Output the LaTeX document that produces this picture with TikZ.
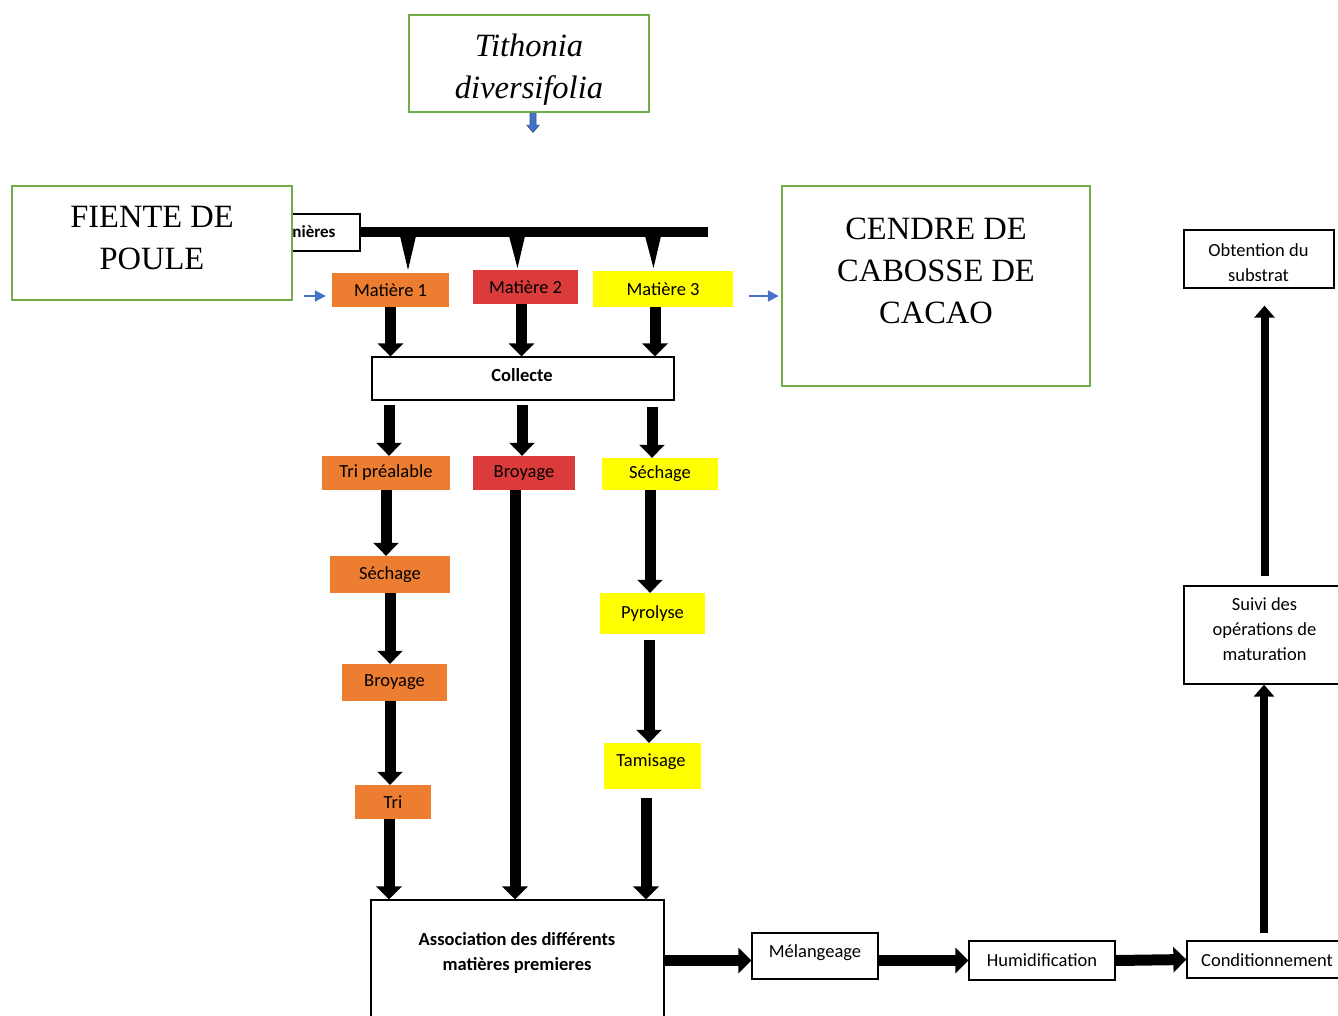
\documentclass[tikz,border=0pt]{standalone}
\usepackage{fontspec}
\setmainfont{Liberation Serif}
\newfontfamily\calfont{Carlito}
\usetikzlibrary{arrows.meta}
\definecolor{gborder}{HTML}{70AD47}
\definecolor{morange}{HTML}{ED7D31}
\definecolor{mred}{HTML}{DC3B3B}
\definecolor{myellow}{HTML}{FFFF00}
\definecolor{mblue}{HTML}{4472C4}
\definecolor{dblue}{HTML}{2F5597}
\begin{document}
\begin{tikzpicture}[x=1pt,y=-1pt,
  gbox/.style={draw=gborder, line width=2.5pt, fill=white, inner sep=0pt},
  gtext/.style={inner sep=0pt, align=center, font=\fontsize{32.5}{42}\selectfont},
  wbox/.style={draw=black, line width=1.3pt, fill=white, inner sep=0pt, align=center, font=\calfont\fontsize{18.5}{25}\selectfont},
  cbox/.style={inner sep=0pt, align=center, font=\calfont\fontsize{18.5}{25}\selectfont},
  obox/.style={cbox, fill=morange},
  rbox/.style={cbox, fill=mred},
  ybox/.style={cbox, fill=myellow},
  barrow/.style={line width=11pt, -{Triangle[width=25pt,length=13pt]}},
  uarrow/.style={line width=8pt, -{Triangle[width=20pt,length=12pt]}},
  blarrow/.style={draw=mblue, line width=2pt, -{Triangle[width=11pt,length=11pt]}},
]
\useasboundingbox (0,0) rectangle (1338,1015);
\fill[white] (0,0) rectangle (1338,1015);

% top box
\node[gbox, minimum width=240pt, minimum height=97pt] (tith) at (529,63.5) {};
\node[gtext] (tithtxt) at (529,70) {\textit{Tithonia}\\\textit{diversifolia}};
\draw[draw=dblue, fill=mblue, line width=0.8pt] ([xshift=1pt]tith.south) -- ++(6,0) -- ++(0,12) -- ++(3,0) -- ++(-6,7) -- ++(-6,-7) -- ++(3,0) -- cycle;

% bar with funnels
\node[wbox, minimum width=110pt, minimum height=37pt] (nier) at (305,232.5) {};
\node[cbox, font=\calfont\bfseries\fontsize{17}{20}\selectfont] (niertxt) at (314,232) {nières};
\fill (360,227) rectangle (708,237);
\fill (400,236) -- (416,236) -- (408,270) -- cycle;
\fill (509,236) -- (525,236) -- (517.5,268) -- cycle;
\fill (645,236) -- (661,236) -- (653.5,268) -- cycle;

% side boxes
\node[gbox, minimum width=280pt, minimum height=114pt] (fiente) at (152,243) {};
\node[gtext] (fientetxt) at (152,238) {FIENTE DE\\POULE};
\node[gbox, minimum width=308pt, minimum height=200pt] (cendre) at (936,286) {};
\node[gtext] (cendretxt) at (936,271) {CENDRE DE\\CABOSSE DE\\CACAO};

% matieres
\node[obox, minimum width=117pt, minimum height=34pt] (m1) at (390.5,290) {Matière 1};
\node[rbox, minimum width=105pt, minimum height=34pt] (m2) at (525.5,287) {Matière 2};
\node[ybox, minimum width=140pt, minimum height=36pt] (m3) at (663,289) {Matière 3};

\coordinate (fa) at (304,296);
\draw[blarrow] (fa) -- (m1.west |- fa) [shorten >=6pt];
\coordinate (fb) at (749,296);
\draw[blarrow] (fb) -- (cendre.west |- fb) [shorten >=2pt];

\node[wbox, minimum width=302pt, minimum height=43pt] (col) at (523,378.5) {};
\node[cbox, font=\calfont\bfseries\fontsize{18.5}{25}\selectfont] (coltxt) at (522,375.5) {Collecte};

\draw[barrow] (m1.south) -- (m1.south |- col.north);
\draw[barrow] ([xshift=-4pt]m2.south) -- ([xshift=-4pt]m2.south |- col.north);
\draw[barrow] ([xshift=-8pt]m3.south) -- ([xshift=-8pt]m3.south |- col.north);

% second row
\node[obox, minimum width=128pt, minimum height=34pt] (tp) at (386,473) {Tri préalable};
\node[rbox, minimum width=102pt, minimum height=34pt] (br2) at (524,473) {Broyage};
\node[ybox, minimum width=116pt, minimum height=32pt] (se3) at (660,474) {Séchage};

\draw[barrow, shorten <=4pt] ([xshift=3pt]tp.north |- col.south) -- ([xshift=3pt]tp.north);
\draw[barrow, shorten <=4pt] ([xshift=-2pt]br2.north |- col.south) -- ([xshift=-2pt]br2.north);
\draw[barrow, shorten <=6pt] ([xshift=-8pt]se3.north |- col.south) -- ([xshift=-8pt]se3.north);

% orange column
\node[obox, minimum width=120pt, minimum height=37pt] (se1) at (390,574.5) {Séchage};
\node[obox, minimum width=105pt, minimum height=37pt] (bro1) at (394.5,682.5) {Broyage};
\node[obox, minimum width=76pt, minimum height=34pt] (tri) at (393,802) {Tri};

% yellow column
\node[ybox, minimum width=105pt, minimum height=41pt] (pyr) at (652.5,613.5) {Pyrolyse};
\node[ybox, minimum width=97pt, minimum height=46pt] (tam) at (652.5,766) {};
\node[cbox] (tamtxt) at (651,761.5) {Tamisage};

% association
\node[wbox, minimum width=293pt, minimum height=125pt] (asso) at (517.5,962.5) {};
\node[cbox, font=\calfont\bfseries\fontsize{18.5}{25}\selectfont] (assotxt) at (517,953) {Association des différents\\matières premieres};

\draw[barrow] (tp.south) -- (tp.south |- se1.north);
\draw[barrow] (se1.south) -- (se1.south |- bro1.north);
\draw[barrow] ([xshift=-4.5pt]bro1.south) -- ([xshift=-4.5pt]bro1.south |- tri.north);
\draw[barrow] ([xshift=-4pt]tri.south) -- ([xshift=-4pt]tri.south |- asso.north);
\draw[barrow] ([xshift=-9pt]br2.south) -- ([xshift=-9pt]br2.south |- asso.north);
\draw[barrow] ([xshift=-10pt]se3.south) -- ([xshift=-10pt]se3.south |- pyr.north);
\draw[barrow, shorten <=6pt] ([xshift=-3.5pt]pyr.south) -- ([xshift=-3.5pt]pyr.south |- tam.north);
\draw[barrow, shorten <=9pt] ([xshift=-6.5pt]tam.south) -- ([xshift=-6.5pt]tam.south |- asso.north);

% bottom row
\node[wbox, minimum width=126pt, minimum height=46pt] (mel) at (815,956) {};
\node[cbox] (meltxt) at (815,952.5) {Mélangeage};
\node[wbox, minimum width=146pt, minimum height=39pt] (hum) at (1042,960.5) {Humidification};
\node[wbox, minimum width=156pt, minimum height=37pt] (cond) at (1265,959.5) {};
\node[cbox] (condtxt) at (1267,960) {Conditionnement};
\node[wbox, minimum width=161pt, minimum height=98pt] (suivi) at (1264.5,635) {};
\node[cbox] (suivitxt) at (1264.5,629.5) {Suivi des\\opérations de\\maturation};
\node[wbox, minimum width=150pt, minimum height=58pt] (obt) at (1259,259) {};
\node[cbox] (obttxt) at (1258.5,263) {Obtention du\\substrat};

\draw[barrow] (asso.east |- hum.west) -- (mel.west |- hum.west);
\draw[barrow] (mel.east |- hum.west) -- (hum.west);
\draw[barrow] (hum.east) -- (cond.west);
\draw[uarrow, shorten <=7pt] ([xshift=-1pt]cond.north) -- ([xshift=-1pt]cond.north |- suivi.south);
\draw[uarrow, shorten <=9pt, shorten >=17pt] (suivi.north) -- (suivi.north |- obt.south);
\end{tikzpicture}
\end{document}
